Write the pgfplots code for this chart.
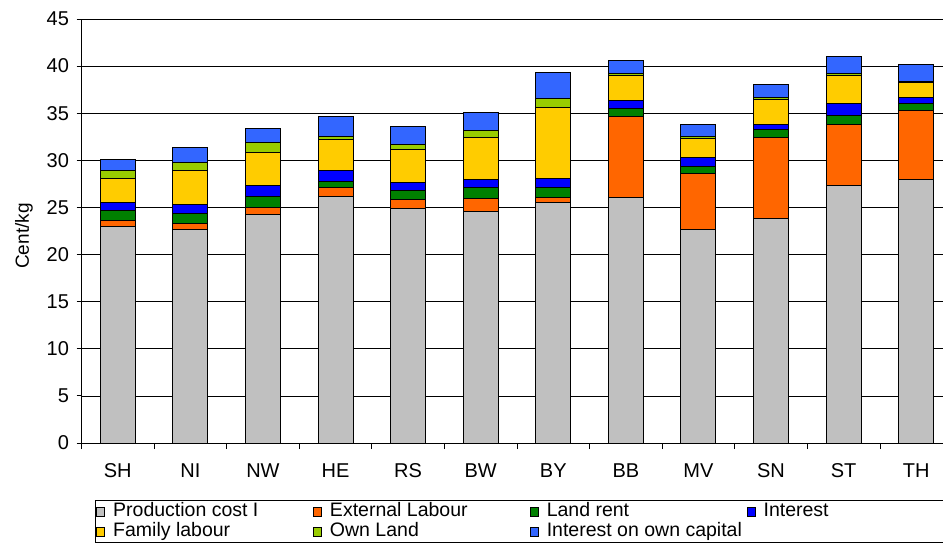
\documentclass[border=0pt]{standalone}
\usepackage{fontspec}
\setmainfont{Liberation Sans}
\usepackage{pgfplots}
\usepackage{pgfplotstable}
\pgfplotsset{compat=1.18}

\definecolor{cgrey}{HTML}{C0C0C0}
\definecolor{corange}{HTML}{FF6600}
\definecolor{cgreen}{HTML}{008000}
\definecolor{cblue}{HTML}{0000FF}
\definecolor{cyellow}{HTML}{FFCC00}
\definecolor{clgreen}{HTML}{99CC00}
\definecolor{clblue}{HTML}{3366FF}

\pgfplotstableread{
x grey ext rent int fam own intown
0 23.00 0.65 1.00 0.85 2.55 0.90 1.15
1 22.70 0.60 1.05 1.00 3.60 0.80 1.60
2 24.20 0.80 1.20 1.10 3.55 1.00 1.55
3 26.15 0.95 0.70 1.15 3.25 0.35 2.05
4 24.85 1.00 0.90 0.85 3.55 0.55 1.85
5 24.55 1.35 1.20 0.90 4.40 0.80 1.90
6 25.50 0.55 1.05 1.00 7.50 1.00 2.75
7 26.05 8.60 0.85 0.90 2.60 0.25 1.35
8 22.65 6.00 0.70 1.00 2.00 0.20 1.20
9 23.85 8.55 0.85 0.55 2.65 0.20 1.40
10 27.30 6.45 1.05 1.25 2.95 0.20 1.80
11 28.00 7.30 0.70 0.70 1.60 0.10 1.80
}\data

\newcommand{\legtext}[2][200bp]{\makebox[#1][l]{#2}}

\begin{document}
\begin{tikzpicture}
\begin{axis}[
  name=ax,
  at={(0,0)}, anchor=south west,
  scale only axis,
  width=871bp, height=424bp,
  ybar stacked,
  bar width=35bp,
  xmin=-0.5, xmax=11.5,
  ymin=0, ymax=45,
  ytick={0,5,...,45},
  xtick={0,...,11},
  xticklabels={SH,NI,NW,HE,RS,BW,BY,BB,MV,SN,ST,TH},
  minor xtick={-0.5,0.5,...,11.5},
  axis x line*=bottom, axis y line*=left,
  axis line style={-, black, line width=0.8bp},
  tick align=outside,
  major tick length=5bp,
  minor tick length=6bp,
  major x tick style={draw=none},
  minor x tick style={black, line width=0.8bp},
  major y tick style={black, line width=0.8bp},
  ymajorgrids,
  major grid style={black, line width=0.7bp},
  /pgf/number format/assume math mode=true,
  ticklabel style={font=\fontsize{20bp}{22bp}\selectfont},
  xticklabel style={yshift=-12bp},
  yticklabel style={xshift=-4bp},
  ylabel={Cent/kg},
  ylabel style={font=\fontsize{19bp}{22bp}\selectfont, at={(axis description cs:-0.0660,0.488)}, anchor=center},
  every axis plot/.append style={draw=black, line width=1bp},
  legend columns=4,
  legend cell align=left,
  legend style={at={(axis description cs:0,0)}, anchor=north west, xshift=13.5bp, yshift=-57bp,
    draw=black, line width=0.8bp, font=\fontsize{19.5bp}{20bp}\selectfont,
    inner sep=1bp, row sep=0bp, column sep=0bp,
    nodes={inner sep=0bp, text height=15.5bp, text depth=4.5bp},
    /tikz/every odd column/.append style={column sep=8bp}},
  legend image code/.code={\draw[#1, line width=0.8bp, draw=black] (0bp,-4.5bp) rectangle (8bp,4.5bp);},
]
\addplot[fill=cgrey] table[x=x,y=grey] \data;
\addlegendentry{\legtext{Production cost I}}
\addplot[fill=corange] table[x=x,y=ext] \data;
\addlegendentry{\legtext{External Labour}}
\addplot[fill=cgreen] table[x=x,y=rent] \data;
\addlegendentry{\legtext{Land rent}}
\addplot[fill=cblue] table[x=x,y=int] \data;
\addlegendentry{\legtext[180bp]{Interest}}
\addplot[fill=cyellow] table[x=x,y=fam] \data;
\addlegendentry{\legtext{Family labour}}
\addplot[fill=clgreen] table[x=x,y=own] \data;
\addlegendentry{\legtext{Own Land}}
\addplot[fill=clblue] table[x=x,y=intown] \data;
\addlegendentry{\legtext{Interest on own capital}}
\end{axis}
\pgfresetboundingbox
\path[use as bounding box] (-81.5bp,-102bp) rectangle (861.5bp,443bp);
\end{tikzpicture}
\end{document}
